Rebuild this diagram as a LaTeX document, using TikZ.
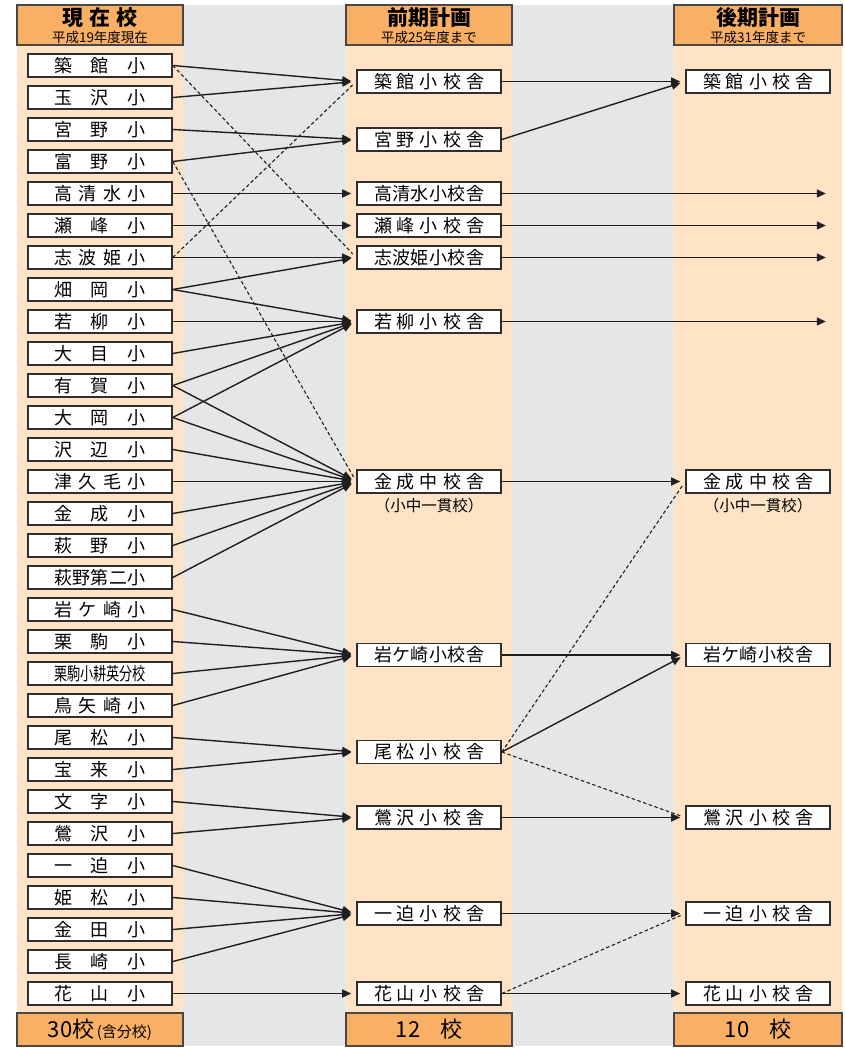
\documentclass[tikz,border=0pt]{standalone}
\usepackage{fontspec}
\setmainfont{Noto Sans CJK JP}
\usepackage{graphicx}
\usetikzlibrary{positioning, arrows.meta}
\definecolor{hdr}{HTML}{FAB064}
\definecolor{lane}{HTML}{FEE3C6}
\definecolor{gap}{HTML}{E5E6E8}
\newcommand\lname[1]{\makebox[92pt][s]{#1}}
\newcommand\mname[1]{\makebox[110pt][s]{#1}}
\tikzset{sbox/.style={draw=black!82, line width=1.6pt, fill=white, minimum width=144pt, minimum height=23pt, inner sep=0pt, font=\fontsize{18}{18}\selectfont}}
\tikzset{hbox/.style={draw=black!72, line width=1.4pt, fill=hdr, minimum width=166pt, inner sep=0pt}}
\tikzset{htitle/.style={inner sep=0pt, font=\fontsize{21}{21}\selectfont\bfseries}}
\tikzset{hsub/.style={inner sep=0pt, font=\fontsize{13.5}{14}\selectfont}}
\tikzset{note/.style={inner sep=0pt, font=\fontsize{15.5}{16}\selectfont}}
\tikzset{arr/.style={draw=black!88, -{Triangle[length=9pt,width=8pt]}, line width=1.4pt, shorten >=5pt}}
\tikzset{darr/.style={draw=black!88, dash pattern=on 3.5pt off 2.5pt, line width=1.1pt, shorten >=5pt}}
\begin{document}
\begin{tikzpicture}[x=1pt, y=-1pt]
	\useasboundingbox (0,0) rectangle (844,1048);
	% lanes
	\fill[gap] (17,5) rectangle (842,1046);
	\foreach \xa/\xb in {17/183, 346/512, 674/842}
		\fill[lane] (\xa,45) rectangle (\xb,1013);

	% headers
	\node[hbox, minimum height=40pt] (H1) at (100,25) {};
	\node[hbox, minimum height=40pt] (H2) at (429,25) {};
	\node[hbox, minimum height=40pt, minimum width=168pt] (H3) at (758,25) {};
	\node[htitle] (H1t) at (100,18) {現\hspace{6pt}在\hspace{6pt}校};
	\node[htitle] (H2t) at (429,18) {前期計画};
	\node[htitle] (H3t) at (758,18) {後期計画};
	\node[hsub] (H1s) at (100,37.5) {平成19年度現在};
	\node[hsub] (H2s) at (429,37.5) {平成25年度まで};
	\node[hsub] (H3s) at (758,37.5) {平成31年度まで};

	% footers
	\node[hbox, minimum height=33pt] (F1) at (100,1029.5)
		{{\fontsize{22}{22}\selectfont 30校}{\fontsize{15}{15}\selectfont\,(含分校)}};
	\node[hbox, minimum height=33pt] (F2) at (429,1029.5)
		{\fontsize{22}{22}\selectfont 12\hspace{20pt}校};
	\node[hbox, minimum height=33pt, minimum width=168pt] (F3) at (758,1029.5)
		{\fontsize{22}{22}\selectfont 10\hspace{20pt}校};

	% present schools
	\foreach \nm [count=\i] in {築\hfill 館\hfill 小, 玉\hfill 沢\hfill 小, 宮\hfill 野\hfill 小,
		富\hfill 野\hfill 小, 高\hfill 清\hfill 水\hfill 小, 瀬\hfill 峰\hfill 小,
		志\hfill 波\hfill 姫\hfill 小, 畑\hfill 岡\hfill 小, 若\hfill 柳\hfill 小,
		大\hfill 目\hfill 小, 有\hfill 賀\hfill 小, 大\hfill 岡\hfill 小,
		沢\hfill 辺\hfill 小, 津\hfill 久\hfill 毛\hfill 小, 金\hfill 成\hfill 小,
		萩\hfill 野\hfill 小, 萩\hfill 野\hfill 第\hfill 二\hfill 小, 岩\hfill ケ\hfill 崎\hfill 小,
		栗\hfill 駒\hfill 小, \scalebox{0.73}[1]{栗駒小耕英分校}, 鳥\hfill 矢\hfill 崎\hfill 小,
		尾\hfill 松\hfill 小, 宝\hfill 来\hfill 小, 文\hfill 字\hfill 小,
		鶯\hfill 沢\hfill 小, 一\hfill 迫\hfill 小, 姫\hfill 松\hfill 小,
		金\hfill 田\hfill 小, 長\hfill 崎\hfill 小, 花\hfill 山\hfill 小}
		\node[sbox] (L\i) at (100,{33.5+32*\i}) {\lname{\nm}};

	% first plan
	\foreach \nm/\y [count=\i] in {築\hfill 館\hfill 小\hfill 校\hfill 舎/81.5,
		宮\hfill 野\hfill 小\hfill 校\hfill 舎/139.5, 高\hfill 清\hfill 水\hfill 小\hfill 校\hfill 舎/193.5,
		瀬\hfill 峰\hfill 小\hfill 校\hfill 舎/225.5, 志\hfill 波\hfill 姫\hfill 小\hfill 校\hfill 舎/257.5,
		若\hfill 柳\hfill 小\hfill 校\hfill 舎/321.5, 金\hfill 成\hfill 中\hfill 校\hfill 舎/481.5,
		岩\hfill ケ\hfill 崎\hfill 小\hfill 校\hfill 舎/655, 尾\hfill 松\hfill 小\hfill 校\hfill 舎/752,
		鶯\hfill 沢\hfill 小\hfill 校\hfill 舎/817.5, 一\hfill 迫\hfill 小\hfill 校\hfill 舎/913.5,
		花\hfill 山\hfill 小\hfill 校\hfill 舎/993.5}
		\node[sbox] (M\i) at (429,\y) {\mname{\nm}};

	% second plan
	\foreach \nm/\y [count=\i] in {築\hfill 館\hfill 小\hfill 校\hfill 舎/81.5,
		金\hfill 成\hfill 中\hfill 校\hfill 舎/481.5, 岩\hfill ケ\hfill 崎\hfill 小\hfill 校\hfill 舎/655,
		鶯\hfill 沢\hfill 小\hfill 校\hfill 舎/817.5, 一\hfill 迫\hfill 小\hfill 校\hfill 舎/913.5,
		花\hfill 山\hfill 小\hfill 校\hfill 舎/993.5}
		\node[sbox] (R\i) at (758,\y) {\mname{\nm}};

	\node[note] (M7n) at (429,506) {（小中一貫校）};
	\node[note] (R2n) at (758,506) {（小中一貫校）};

	% open ends
	\foreach \i in {3,4,5,6}
		\coordinate (E\i) at (M\i -| R1.east);

	% connectors
	\foreach \a/\b in {1/1, 2/1, 3/2, 4/2, 5/3, 6/4, 7/5, 8/5, 8/6, 9/6, 10/6, 11/6, 11/7,
		12/6, 12/7, 13/7, 14/7, 15/7, 16/7, 17/7, 18/8, 19/8, 20/8, 21/8, 22/9, 23/9,
		24/10, 25/10, 26/11, 27/11, 28/11, 29/11, 30/12}
		\draw[arr] (L\a.east) -- (M\b.west);
	\foreach \a/\b in {1/5, 4/7, 7/1}
		\draw[darr] (L\a.east) -- (M\b.west);
	\foreach \a/\b in {1/1, 2/1, 7/2, 8/3, 9/3, 10/4, 11/5, 12/6}
		\draw[arr] (M\a.east) -- (R\b.west);
	\foreach \a/\b in {9/2, 9/4, 12/5}
		\draw[darr] (M\a.east) -- (R\b.west);
	\foreach \i in {3,4,5,6}
		\draw[arr] (M\i.east) -- (E\i);
\end{tikzpicture}
\end{document}
